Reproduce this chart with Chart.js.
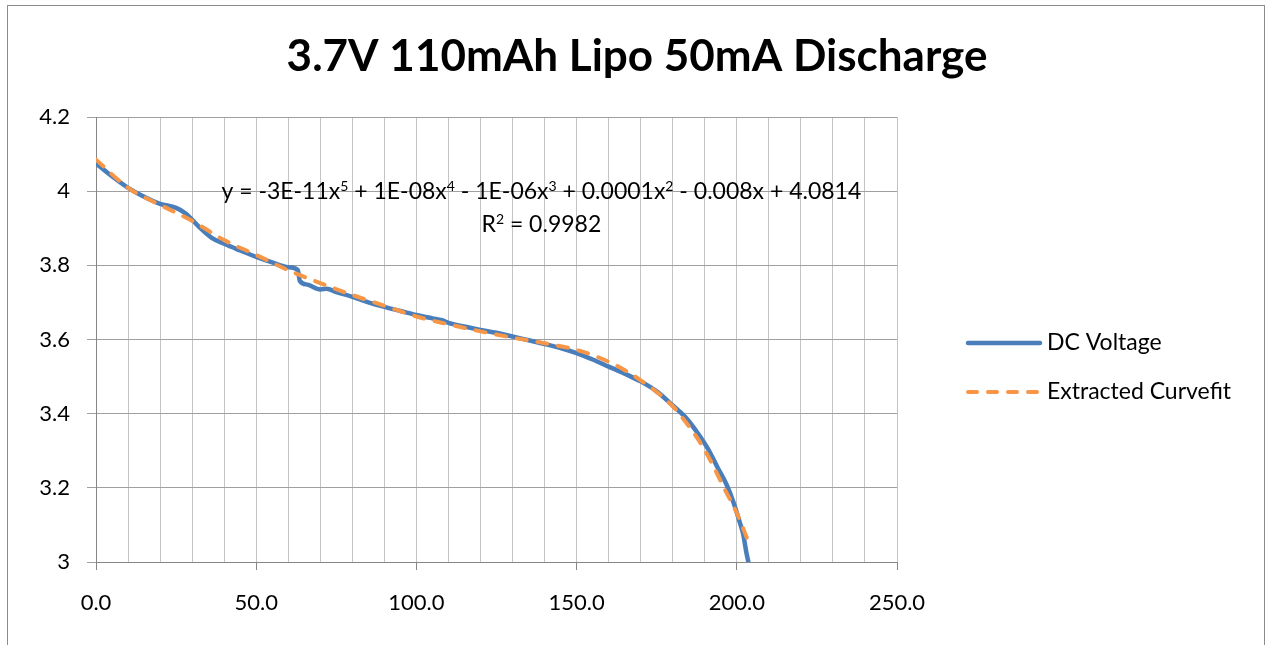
<!DOCTYPE html>
<html>
<head>
<meta charset="utf-8">
<title>3.7V 110mAh Lipo 50mA Discharge</title>
<script src="https://cdn.jsdelivr.net/npm/chart.js@4.4.1/dist/chart.umd.min.js"></script>
<style>
  html, body { margin: 0; padding: 0; background: #fff; overflow: hidden; }
  #wrap { position: relative; width: 1270px; height: 645px; }
</style>
</head>
<body>
<div id="wrap"><canvas id="chart"></canvas></div>
<script>
// measured discharge curve (mAh vs volts)
const dcX = [0, 5, 10, 15, 20, 25, 28, 32, 36, 40, 45, 50, 55, 60, 63, 63.6, 66, 70, 72, 75, 80, 85, 90, 95, 100,
  105, 108, 110, 115, 120, 125, 130, 135, 140, 145, 150, 155, 160, 165, 170, 175, 180, 184, 188, 191, 194,
  197, 199, 201, 202, 203, 204];
const dcV = [4.075, 4.04, 4.009, 3.985, 3.966, 3.955, 3.94, 3.905, 3.875, 3.858, 3.84, 3.823, 3.808, 3.795, 3.787, 3.758,
  3.748, 3.735, 3.737, 3.728, 3.715, 3.70, 3.688, 3.677, 3.666, 3.657, 3.652, 3.645, 3.635, 3.626, 3.618, 3.608,
  3.598, 3.588, 3.577, 3.563, 3.546, 3.527, 3.508, 3.487, 3.46, 3.422, 3.39, 3.345, 3.305, 3.255, 3.205, 3.16,
  3.105, 3.075, 3.025, 2.985];

// spreadsheet trendline
const fitX = [0, 10, 20, 30, 40, 50, 60, 70, 80, 90, 100, 110, 120, 130, 140, 150, 160, 170, 180, 184, 188, 192,
  196, 200, 203.6];
const fitV = [4.085, 4.009, 3.963, 3.92, 3.868, 3.828, 3.787, 3.752, 3.72, 3.691, 3.662, 3.641, 3.622, 3.605, 3.59,
  3.572, 3.54, 3.49, 3.42, 3.378, 3.33, 3.27, 3.2, 3.132, 3.055];

const seriesNames = ['DC Voltage', 'Extracted Curvefit'];
const chartTitle = '3.7V 110mAh Lipo 50mA Discharge';

const xGridValues = [0, 10, 20, 30, 40, 50, 60, 70, 80, 90, 100, 110, 120, 130, 140, 150, 160, 170, 180, 190,
  200, 210, 220, 230, 240, 250];
const xLabelValues = [0, 50, 100, 150, 200, 250];
const xTickLabels = ['0.0', '50.0', '100.0', '150.0', '200.0', '250.0'];
const yTickValues = [3, 3.2, 3.4, 3.6, 3.8, 4, 4.2];
const yTickLabels = ['3', '3.2', '3.4', '3.6', '3.8', '4', '4.2'];

// trendline label, [text, superscript]
const trendEquation = [['y = -3E-11x', 0], ['5', 1], [' + 1E-08x', 0], ['4', 1], [' - 1E-06x', 0], ['3', 1],
  [' + 0.0001x', 0], ['2', 1], [' - 0.008x + 4.0814', 0]];
const trendR2 = [['R', 0], ['2', 1], [' = 0.9982', 0]];

const FONT = 'Lato, "Liberation Sans", sans-serif';
const BLUE = '#4a7ebb';
const ORANGE = '#f79646';

function drawRich(ctx, parts, cx, baseline, size) {
  const normal = size + 'px ' + FONT;
  const small = Math.round(size * 0.62) + 'px ' + FONT;
  let total = 0;
  parts.forEach(([t, sup]) => {
    ctx.font = sup ? small : normal;
    total += ctx.measureText(t).width;
  });
  let x = cx - total / 2;
  ctx.textAlign = 'left';
  ctx.textBaseline = 'alphabetic';
  parts.forEach(([t, sup]) => {
    ctx.font = sup ? small : normal;
    ctx.fillText(t, x, sup ? baseline - size * 0.36 : baseline);
    x += ctx.measureText(t).width;
  });
}

const extras = {
  id: 'extras',
  beforeDraw(chart) {
    const ctx = chart.ctx;
    ctx.save();
    ctx.strokeStyle = '#8c8c8c';
    ctx.lineWidth = 1;
    ctx.strokeRect(7.5, 5.5, 1257, 700);
    ctx.restore();
  },
  afterDraw(chart) {
    const ctx = chart.ctx;
    const area = chart.chartArea;
    const xs = chart.scales.x;
    const ys = chart.scales.y;
    ctx.save();
    ctx.fillStyle = '#000';

    // title
    ctx.font = 'bold 44px ' + FONT;
    ctx.textAlign = 'center';
    ctx.textBaseline = 'alphabetic';
    ctx.fillText(chartTitle, 637, 71);

    // trendline equation
    const eqX = xs.getPixelForValue(139);
    drawRich(ctx, trendEquation, eqX, ys.getPixelForValue(4) + 8, 23);
    drawRich(ctx, trendR2, eqX, ys.getPixelForValue(4) + 41, 23);

    // legend
    const lx = area.right + 71;
    const rows = [[343, BLUE, []], [392, ORANGE, [9, 11]]];
    rows.forEach(([y, color, dash], i) => {
      ctx.beginPath();
      ctx.strokeStyle = color;
      ctx.lineWidth = i === 0 ? 4.5 : 4;
      ctx.lineCap = 'round';
      ctx.setLineDash(dash);
      ctx.moveTo(lx, y);
      ctx.lineTo(lx + 72, y);
      ctx.stroke();
      ctx.setLineDash([]);
      ctx.font = '23px ' + FONT;
      ctx.textAlign = 'left';
      ctx.textBaseline = 'middle';
      ctx.fillText(seriesNames[i], lx + 79, y);
    });
    ctx.restore();
  }
};

const tickFont = { family: FONT, size: 22 };

new Chart(document.getElementById('chart'), {
  type: 'scatter',
  data: {
    datasets: [
      {
        label: seriesNames[0],
        data: dcX.map((x, i) => ({ x: x, y: dcV[i] })),
        showLine: true,
        borderColor: BLUE,
        borderWidth: 4.5,
        borderCapStyle: 'round',
        borderJoinStyle: 'round',
        cubicInterpolationMode: 'monotone',
        pointRadius: 0,
        order: 2
      },
      {
        label: seriesNames[1],
        data: fitX.map((x, i) => ({ x: x, y: fitV[i] })),
        showLine: true,
        borderColor: ORANGE,
        borderWidth: 4,
        borderDash: [10, 11],
        borderCapStyle: 'round',
        cubicInterpolationMode: 'monotone',
        pointRadius: 0,
        order: 1
      }
    ]
  },
  options: {
    responsive: true,
    maintainAspectRatio: false,
    animation: false,
    layout: { padding: { top: 117, right: 373, bottom: 0, left: 0 } },
    plugins: {
      legend: { display: false },
      title: { display: false },
      tooltip: { enabled: false }
    },
    scales: {
      x: {
        type: 'linear',
        min: 0,
        max: 250,
        afterBuildTicks: s => { s.ticks = xGridValues.map(v => ({ value: v })); },
        afterFit: s => { s.height = 83; },
        ticks: {
          autoSkip: false,
          maxRotation: 0,
          padding: 20,
          color: '#000',
          font: tickFont,
          callback: v => {
            const i = xLabelValues.indexOf(v);
            return i >= 0 ? xTickLabels[i] : '';
          }
        },
        grid: {
          color: '#c4c4c4',
          lineWidth: 1,
          tickLength: 8,
          tickColor: c => (c.tick && xLabelValues.includes(c.tick.value)) ? '#868686' : 'rgba(0,0,0,0)'
        },
        border: { color: '#868686', width: 1 }
      },
      y: {
        type: 'linear',
        min: 3,
        max: 4.2,
        afterBuildTicks: s => { s.ticks = yTickValues.map(v => ({ value: v })); },
        afterFit: s => { s.width = 96; },
        ticks: {
          padding: 17,
          color: '#000',
          font: tickFont,
          callback: (v, i) => yTickLabels[i]
        },
        grid: { color: '#a0a0a0', lineWidth: 1, tickLength: 9, tickColor: '#a0a0a0' },
        border: { color: '#868686', width: 1 }
      }
    }
  },
  plugins: [extras]
});
</script>
</body>
</html>
